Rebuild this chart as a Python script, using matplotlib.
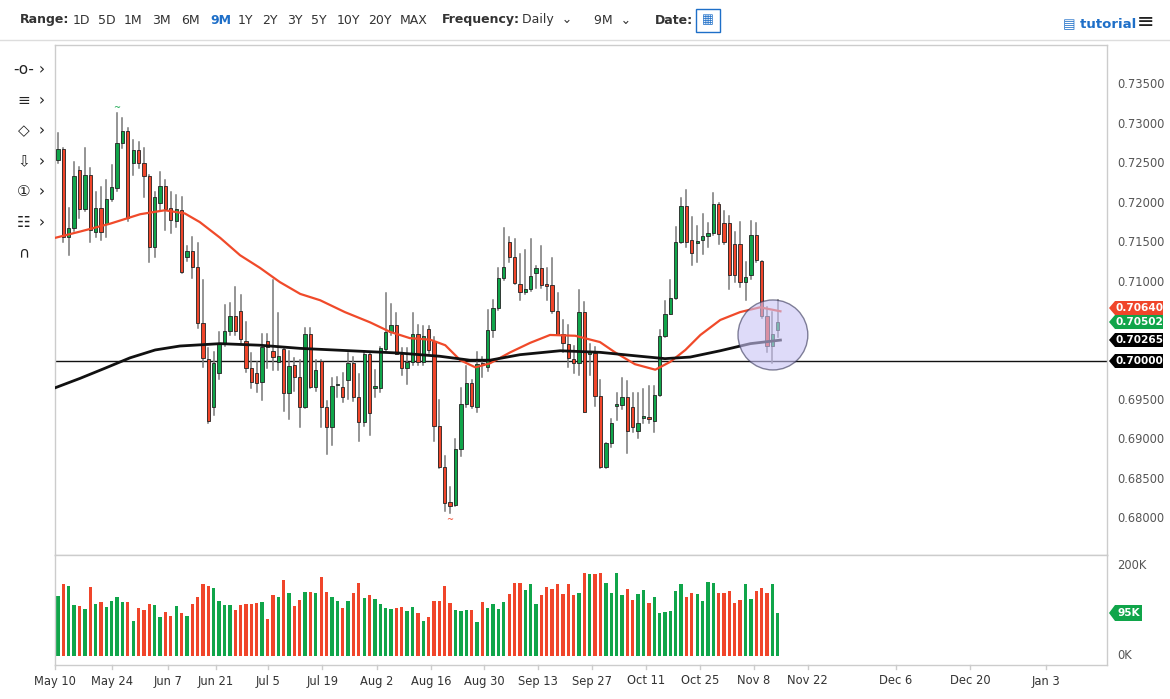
import matplotlib
matplotlib.use("Agg")
import matplotlib.pyplot as plt
from matplotlib.patches import Rectangle, Ellipse, Polygon
import numpy as np

# ---------------- data ----------------
opens = [0.7255,0.7269,0.7157,0.7168,0.7242,0.7193,0.7236,0.7164,0.7194,0.7174,0.7205,0.7219,0.7276,0.7291,0.7251,0.7267,0.7251,0.7234,0.7144,0.7200,
         0.7222,0.7194,0.7178,0.7191,0.7132,0.7139,0.7119,0.7048,0.7003,0.6942,0.6985,0.7022,0.7038,0.7057,0.7063,0.7025,0.6991,0.6985,0.6973,0.7025,
         0.7013,0.6999,0.7015,0.6959,0.6995,0.6980,0.6942,0.7034,0.6967,0.7000,0.6942,0.6916,0.6969,0.6967,0.6976,0.6997,0.6954,0.6923,0.7009,0.6966,
         0.6966,0.7015,0.7037,0.7046,0.7009,0.6991,0.6999,0.7034,0.6999,0.7041,0.7025,0.6918,0.6866,0.6821,0.6818,0.6889,0.6945,0.6972,0.6942,0.6997,
         0.6992,0.7039,0.7067,0.7105,0.7151,0.7132,0.7098,0.7087,0.7091,0.7111,0.7118,0.7097,0.7096,0.7063,0.7034,0.7022,0.7003,0.6998,0.7062,0.7009,
         0.7010,0.6956,0.6866,0.6896,0.6943,0.6944,0.6954,0.6942,0.6911,0.6928,0.6929,0.6924,0.6957,0.7032,0.7060,0.7080,0.7151,0.7196,0.7153,0.7149,
         0.7153,0.7158,0.7162,0.7199,0.7175,0.7175,0.7148,0.7148,0.7100,0.7109,0.7160,0.7127,0.7057,0.7019,0.7039]
highs = [0.7289,0.7270,0.7194,0.7252,0.7246,0.7270,0.7245,0.7214,0.7220,0.7229,0.7248,0.7314,0.7308,0.7295,0.7280,0.7277,0.7270,0.7236,0.7214,0.7239,
         0.7229,0.7214,0.7210,0.7208,0.7146,0.7157,0.7150,0.7103,0.7016,0.7011,0.7037,0.7071,0.7073,0.7094,0.7084,0.7050,0.7010,0.6999,0.7034,0.7034,
         0.7103,0.7061,0.7016,0.7013,0.7004,0.7001,0.7042,0.7042,0.7001,0.7001,0.6949,0.6979,0.6980,0.6985,0.7010,0.7005,0.6984,0.7013,0.7012,0.6989,
         0.7018,0.7086,0.7072,0.7061,0.7016,0.7016,0.7061,0.7046,0.7044,0.7044,0.7030,0.6950,0.6880,0.6840,0.6901,0.6966,0.6994,0.6976,0.7011,0.7005,
         0.7064,0.7077,0.7118,0.7169,0.7157,0.7155,0.7135,0.7141,0.7155,0.7120,0.7146,0.7118,0.7131,0.7086,0.7052,0.7046,0.7019,0.7090,0.7075,0.7022,
         0.7018,0.6976,0.6896,0.6927,0.6960,0.6979,0.6975,0.6960,0.6960,0.6964,0.6968,0.6968,0.7039,0.7076,0.7103,0.7170,0.7207,0.7217,0.7183,0.7171,
         0.7186,0.7175,0.7213,0.7200,0.7190,0.7184,0.7163,0.7176,0.7125,0.7178,0.7175,0.7127,0.7068,0.7062,0.7077]
lows = [0.7251,0.7151,0.7134,0.7165,0.7181,0.7190,0.7151,0.7157,0.7153,0.7157,0.7203,0.7216,0.7270,0.7178,0.7236,0.7245,0.7208,0.7125,0.7132,0.7190,
        0.7166,0.7162,0.7170,0.7111,0.7127,0.7105,0.7042,0.6992,0.6922,0.6932,0.6977,0.7019,0.7033,0.7033,0.7023,0.6986,0.6966,0.6961,0.6951,0.6991,
        0.6988,0.6988,0.6937,0.6926,0.6962,0.6917,0.6941,0.6966,0.6962,0.6917,0.6882,0.6894,0.6955,0.6948,0.6952,0.6949,0.6899,0.6918,0.6906,0.6954,
        0.6961,0.7013,0.7033,0.7009,0.6982,0.6971,0.6995,0.6995,0.6995,0.7010,0.6899,0.6864,0.6810,0.6807,0.6816,0.6880,0.6942,0.6940,0.6935,0.6980,
        0.6987,0.7030,0.7064,0.7103,0.7125,0.7097,0.7077,0.7085,0.7089,0.7093,0.7092,0.7077,0.7061,0.7033,0.7011,0.6993,0.6985,0.6982,0.6935,0.6982,
        0.6943,0.6864,0.6864,0.6891,0.6925,0.6939,0.6884,0.6910,0.6903,0.6921,0.6921,0.6910,0.6956,0.7030,0.7059,0.7078,0.7149,0.7145,0.7122,0.7125,
        0.7135,0.7144,0.7160,0.7148,0.7148,0.7091,0.7100,0.7094,0.7077,0.7104,0.7125,0.7055,0.7011,0.6997,0.7030]
closes = [0.7269,0.7157,0.7168,0.7234,0.7193,0.7236,0.7166,0.7194,0.7164,0.7205,0.7220,0.7276,0.7291,0.7181,0.7267,0.7251,0.7234,0.7144,0.7208,0.7222,
          0.7193,0.7179,0.7192,0.7113,0.7139,0.7119,0.7048,0.7004,0.6924,0.6997,0.7023,0.7038,0.7057,0.7038,0.7028,0.6991,0.6973,0.6972,0.7018,0.7018,
          0.7005,0.7006,0.6959,0.6994,0.6980,0.6942,0.7034,0.6967,0.6989,0.6942,0.6916,0.6968,0.6971,0.6954,0.6997,0.6954,0.6923,0.7009,0.6934,0.6968,
          0.7016,0.7037,0.7046,0.7009,0.6991,0.6999,0.7034,0.6999,0.7032,0.7014,0.6918,0.6866,0.6820,0.6816,0.6889,0.6945,0.6972,0.6943,0.6996,0.6995,
          0.7039,0.7067,0.7105,0.7119,0.7132,0.7099,0.7087,0.7091,0.7108,0.7118,0.7096,0.7095,0.7063,0.7033,0.7023,0.7004,0.6998,0.7062,0.6935,0.7011,
          0.6956,0.6866,0.6896,0.6921,0.6945,0.6954,0.6911,0.6916,0.6921,0.6930,0.6927,0.6957,0.7032,0.7060,0.7080,0.7151,0.7196,0.7151,0.7137,0.7152,
          0.7158,0.7162,0.7199,0.7161,0.7151,0.7109,0.7109,0.7100,0.7106,0.7160,0.7128,0.7057,0.7019,0.7034,0.7050]
volumes_k = [133,159,156,113,110,105,153,116,119,109,122,130,120,121,78,107,102,116,113,87,
             98,89,111,95,88,115,132,159,156,152,122,113,113,103,113,116,115,118,119,82,
             136,132,169,139,111,124,143,143,139,176,142,130,123,107,122,139,162,128,136,126,
             115,106,105,107,109,100,108,95,77,87,122,122,156,118,102,99,102,102,76,119,
             107,116,104,120,137,163,163,147,161,116,136,153,148,159,137,160,136,139,185,182,
             182,185,163,141,184,136,148,124,137,146,117,132,96,98,101,145,159,130,139,137,
             123,165,163,139,139,144,117,124,159,126,144,150,141,159,95]

ma50_idx = [-0.56,4.1,9.7,15.3,19.9,23.6,26.4,30.2,33.9,37.6,41.3,45.1,48.8,53.4,58.1,61.8,65.5,69.3,72.1,74.9,77.7,80.4,84.2,87.9,91.6,96.3,100.9,103.7,107.4,111.2,114.0,116.8,119.6,123.3,127.0,130.7,134.5]
ma50_val = [0.7156,0.7164,0.7174,0.7186,0.7191,0.7187,0.7176,0.7156,0.7134,0.7118,0.7100,0.7085,0.7077,0.7062,0.7049,0.7037,0.7029,0.7027,0.7020,0.7001,0.6992,0.6997,0.7011,0.7023,0.7033,0.7032,0.7024,0.7011,0.6996,0.6989,0.6999,0.7014,0.7033,0.7052,0.7062,0.7068,0.7063]
ma200_idx = [-0.56,4.1,8.8,13.4,18.1,22.7,30.2,37.6,45.1,54.4,63.7,71.1,76.7,80.4,86.0,93.5,100.9,108.4,113.0,117.7,123.3,128.9,134.5]
ma200_val = [0.6966,0.6978,0.6991,0.7004,0.7014,0.7019,0.7022,0.7020,0.7016,0.7013,0.7010,0.7006,0.7001,0.7001,0.7008,0.7013,0.7011,0.7006,0.7003,0.7005,0.7013,0.7022,0.70265]

tick_pos = [-0.56,10.06,20.5,29.4,39.1,49.2,59.4,69.5,79.3,89.4,99.4,109.5,119.6,129.6,139.6,156,169.8,184]
tick_lab = ["May 10","May 24","Jun 7","Jun 21","Jul 5","Jul 19","Aug 2","Aug 16","Aug 30","Sep 13","Sep 27","Oct 11","Oct 25","Nov 8","Nov 22","Dec 6","Dec 20","Jan 3"]
price_ticks = [0.735,0.730,0.725,0.720,0.715,0.710,0.705,0.700,0.695,0.690,0.685,0.680]
range_labels = ["1D","5D","1M","3M","6M","9M","1Y","2Y","3Y","5Y","10Y","20Y","MAX"]

GREEN = "#10a54a"
RED = "#f0452a"
GRAY = "#555555"

W, H = 1170, 699
fig = plt.figure(figsize=(W/100, H/100), dpi=100)
plt.rcParams['font.family'] = ['DejaVu Sans']

def fx(px): return px / W
def fy(py): return 1 - py / H

XMIN, XMAX = -0.56, 195.3
ax = fig.add_axes([fx(55), fy(555), fx(1107) - fx(55), fy(45) - fy(555)])
ax.set_xlim(XMIN, XMAX)
ax.set_ylim(0.67542, 0.74004)
axv = fig.add_axes([fx(55), fy(665), fx(1107) - fx(55), fy(555) - fy(665)])
axv.set_xlim(XMIN, XMAX)
axv.set_ylim(-20000, 224400)

for a in (ax, axv):
    a.set_xticks([]); a.set_yticks([])
    for s in a.spines.values():
        s.set_color("#cccccc"); s.set_linewidth(1)

n = len(closes)
bw = 0.62
for i in range(n):
    o, h, l, c = opens[i], highs[i], lows[i], closes[i]
    col = GREEN if c >= o else RED
    ax.plot([i, i], [l, h], color="#777777", lw=1.1, zorder=2)
    bot = min(o, c); ht = max(abs(c - o), 0.00006)
    ax.add_patch(Rectangle((i - bw/2, bot), bw, ht, facecolor=col, edgecolor="#222222", lw=0.6, zorder=3))
    axv.bar(i, volumes_k[i] * 1000, width=0.62, color=col, zorder=2)

ax.plot(ma50_idx, ma50_val, color="#f04a2a", lw=1.6, zorder=4, solid_joinstyle="round")
ax.plot(ma200_idx, ma200_val, color="#111111", lw=2.0, zorder=4, solid_joinstyle="round")
ax.axhline(0.700, color="#111111", lw=1.0, zorder=1)

ax.add_patch(Ellipse((133.1, 0.7033), 13.0, 0.00887, facecolor="#c9c3f5", alpha=0.6, edgecolor="#333355", lw=1.0, zorder=5))
ax.text(11, 0.7316, "~", color=GREEN, fontsize=6, ha="center", va="bottom")
ax.text(73, 0.6805, "~", color=RED, fontsize=6, ha="center", va="top")

# right axis labels (those hidden under the value tags are not drawn)
for p in price_ticks:
    if p in (0.705, 0.700):
        continue
    ax.text(XMAX + 1.9, p, f"{p:.5f}", color=GRAY, fontsize=8.3, va="center", ha="left", clip_on=False)
axv.text(XMAX + 1.9, 200000, "200K", color=GRAY, fontsize=8.3, va="center", ha="left", clip_on=False)
axv.text(XMAX + 1.9, 0, "0K", color=GRAY, fontsize=8.3, va="center", ha="left", clip_on=False)

def badge(py, text, col, x1=1163, fs=7.6, hh=7):
    x0 = 1109
    pts = [(x0, py), (x0 + 6, py - hh), (x1, py - hh), (x1, py + hh), (x0 + 6, py + hh)]
    fig.patches.append(Polygon([(fx(a), fy(b)) for a, b in pts], closed=True, transform=fig.transFigure,
                               facecolor=col, edgecolor="none", zorder=10))
    fig.text(fx((x0 + 6 + x1) / 2), fy(py), text, color="white", fontsize=fs, fontweight="bold",
             ha="center", va="center", zorder=11)

badge(308, "0.70640", RED)
badge(322, "0.70502", GREEN)
badge(340, "0.70265", "#000000")
badge(361, "0.70000", "#000000")
badge(613, "95K", GREEN, x1=1142, hh=8)

# x tick labels
for p, lab in zip(tick_pos, tick_lab):
    xp = 55 + (p - XMIN) / (XMAX - XMIN) * (1107 - 55)
    fig.text(fx(xp), fy(681), lab, color="#333333", fontsize=8.3, ha="center", va="center")
    fig.lines.append(plt.Line2D([fx(xp), fx(xp)], [fy(665), fy(669)], transform=fig.transFigure, color="#cccccc", lw=1))

# top toolbar
fig.text(fx(20), fy(20), "Range:", fontsize=9, fontweight="bold", color="#333333", va="center")
range_x = [73, 98, 124, 152, 181, 210, 238, 262, 287, 311, 337, 368, 400]
for rx, lab in zip(range_x, range_labels):
    fig.text(fx(rx), fy(20), lab, fontsize=9, color="#1e6fc8" if lab == "9M" else "#333333",
             fontweight="bold" if lab == "9M" else "normal", va="center")
fig.text(fx(442), fy(20), "Frequency:", fontsize=9, fontweight="bold", color="#333333", va="center")
fig.text(fx(522), fy(20), "Daily  \u2304", fontsize=9, color="#333333", va="center")
fig.text(fx(594), fy(20), "9M  \u2304", fontsize=9, color="#333333", va="center")
fig.text(fx(655), fy(20), "Date:", fontsize=9, fontweight="bold", color="#333333", va="center")
fig.patches.append(Rectangle((fx(696), fy(32)), fx(24), fy(9) - fy(32), transform=fig.transFigure,
                             facecolor="white", edgecolor="#1e6fc8", lw=1))
fig.text(fx(708), fy(20), "\u25a6", fontsize=9, color="#1e6fc8", ha="center", va="center")
fig.text(fx(1063), fy(24), "\u25a4 tutorial", fontsize=9.5, fontweight="bold", color="#1e6fc8", va="center")
fig.text(fx(1146), fy(22), "\u2261", fontsize=15, color="#222222", ha="center", va="center")
fig.lines.append(plt.Line2D([0, 1], [fy(40), fy(40)], transform=fig.transFigure, color="#dddddd", lw=1))

# left tools
icons = ["-o-", "\u2261", "\u25c7", "\u21e9", "\u2460", "\u2637", "\u2229"]
for k, ic in enumerate(icons):
    yy = 70 + k * 30.5
    fig.text(fx(24), fy(yy), ic, fontsize=11, color="#222222", ha="center", va="center")
    if k < 6:
        fig.text(fx(42), fy(yy), "\u203a", fontsize=11, color="#222222", ha="center", va="center")

fig.savefig("out.png", dpi=100)
